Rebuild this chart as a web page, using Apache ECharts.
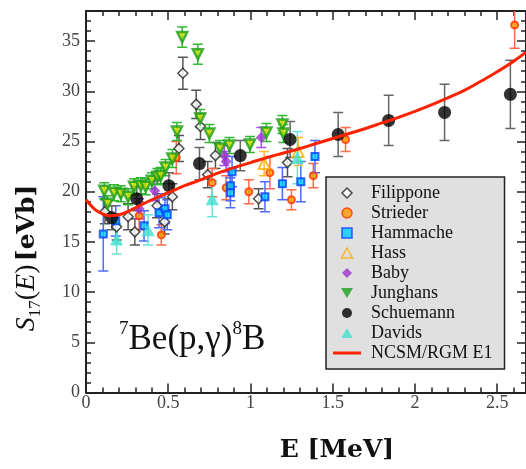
<!DOCTYPE html>
<html>
<head>
<meta charset="utf-8">
<script src="https://cdn.jsdelivr.net/npm/echarts@6/dist/echarts.min.js"></script>
<style>
  html, body { margin: 0; padding: 0; background: #fff; }
  #main { width: 526px; height: 469px; }
</style>
</head>
<body>
<div id="main"></div>
<script>
// E [MeV], S17 [eVb], error [eVb]
var filipponeE = [0.115, 0.186, 0.256, 0.297, 0.432, 0.478, 0.525, 0.565, 0.589, 0.67, 0.696, 0.74, 0.787, 1.049, 1.225];
var filipponeS = [18.0, 16.5, 17.5, 16.0, 18.6, 17.0, 19.5, 24.3, 31.8, 28.7, 26.5, 21.7, 23.6, 19.3, 22.9];
var filipponeErr = [1.2, 1.3, 1.3, 1.3, 1.2, 1.2, 1.3, 1.3, 1.6, 1.4, 1.3, 1.3, 1.3, 1.0, 1.4];

var striederE = [0.323, 0.458, 0.549, 0.767, 0.852, 0.99, 1.118, 1.249, 1.382, 1.578, 2.606];
var striederS = [17.6, 15.7, 23.4, 20.9, 20.4, 20.0, 21.9, 19.2, 21.6, 25.2, 36.6];
var striederErr = [1.4, 1.0, 1.6, 1.4, 1.2, 1.2, 1.6, 1.0, 1.2, 1.2, 2.3];

var hammacheE = [0.105, 0.181, 0.353, 0.444, 0.48, 0.494, 0.878, 0.888, 0.878, 1.088, 1.194, 1.306, 1.392];
var hammacheS = [15.8, 17.1, 16.6, 17.9, 18.3, 17.7, 20.6, 22.0, 19.9, 19.5, 20.8, 21.0, 23.5];
var hammacheErr = [3.7, 1.5, 1.5, 1.5, 1.5, 1.5, 1.5, 1.5, 1.5, 1.5, 1.6, 2.0, 1.6];

var hassE = [1.083, 1.29];
var hassS = [22.8, 24.0];
var hassErr = [1.2, 1.4];

var babyE = [0.323, 0.418, 0.841, 0.852, 1.066];
var babyS = [18.3, 20.1, 23.6, 23.0, 25.4];
var babyErr = [1.0, 1.0, 1.0, 1.0, 1.0];

var junghansE = [0.111, 0.131, 0.171, 0.212, 0.256, 0.292, 0.333, 0.363, 0.4, 0.434, 0.454, 0.484, 0.525, 0.553, 0.585, 0.68, 0.694, 0.75, 0.815, 0.872, 0.997, 1.097, 1.194, 1.2];
var junghansS = [20.1, 18.8, 19.9, 19.8, 19.5, 20.5, 20.6, 20.5, 21.1, 21.5, 21.6, 22.4, 23.3, 26.0, 35.4, 33.7, 27.3, 25.8, 24.3, 24.6, 24.7, 25.9, 26.7, 25.8];
var junghansErr = [0.8, 0.8, 0.8, 0.8, 0.8, 0.8, 0.8, 0.8, 0.8, 0.8, 0.8, 0.8, 0.9, 0.9, 1.0, 1.0, 0.9, 0.9, 0.8, 0.8, 0.8, 0.9, 0.9, 0.9];

var schuemannE = [0.157, 0.309, 0.504, 0.69, 0.938, 1.241, 1.533, 1.84, 2.18, 2.58];
var schuemannS = [17.4, 19.3, 20.6, 22.8, 23.6, 25.2, 25.7, 27.1, 27.9, 29.7];
var schuemannErr = [1.2, 1.2, 1.3, 1.6, 1.5, 1.8, 2.2, 2.5, 2.8, 3.4];

var davidsE = [0.186, 0.377, 0.767, 1.285];
var davidsS = [15.3, 16.2, 19.3, 23.4];
var davidsErr = [1.5, 1.5, 1.8, 2.6];

var curveE = [0, 0.05, 0.1, 0.15, 0.2, 0.3, 0.4, 0.5, 0.6, 0.7, 0.8, 0.9, 1.0, 1.1, 1.2, 1.3, 1.4, 1.5, 1.6, 1.7, 1.8, 1.9, 2.0, 2.1, 2.2, 2.3, 2.4, 2.5, 2.6, 2.675];
var curveS = [19.2, 18.3, 17.8, 17.6, 17.7, 18.4, 19.2, 19.9, 20.6, 21.2, 21.85, 22.4, 22.9, 23.4, 23.85, 24.3, 24.8, 25.3, 25.8, 26.3, 26.85, 27.4, 28.0, 28.65, 29.35, 30.1, 31.0, 31.95, 33.0, 33.9];

var xMin = 0, xMax = 2.675, yMin = 0, yMax = 38;

var serif = 'Liberation Serif';

function zip(xs, ys) {
  return xs.map(function (x, i) { return [x, ys[i]]; });
}

function errorBars(name, xs, ys, err, color) {
  return {
    type: 'custom',
    name: name + ' err',
    clip: true,
    z: 2,
    data: xs.map(function (x, i) { return [x, ys[i] - err[i], ys[i] + err[i]]; }),
    encode: { x: 0, y: [1, 2] },
    renderItem: function (params, api) {
      var lo = api.coord([api.value(0), api.value(1)]);
      var hi = api.coord([api.value(0), api.value(2)]);
      var w = 5;
      var st = { stroke: color, lineWidth: 1.5 };
      return {
        type: 'group',
        children: [
          { type: 'line', shape: { x1: lo[0], y1: lo[1], x2: hi[0], y2: hi[1] }, style: st },
          { type: 'line', shape: { x1: lo[0] - w, y1: lo[1], x2: lo[0] + w, y2: lo[1] }, style: st },
          { type: 'line', shape: { x1: hi[0] - w, y1: hi[1], x2: hi[0] + w, y2: hi[1] }, style: st }
        ]
      };
    }
  };
}

function points(name, xs, ys, symbol, size, itemStyle, rotate) {
  return {
    type: 'scatter',
    name: name,
    data: zip(xs, ys),
    symbol: symbol,
    symbolSize: size,
    symbolRotate: rotate || 0,
    itemStyle: itemStyle,
    z: 3
  };
}

function xAx(pos, interval, len, labels, line) {
  return {
    type: 'value', position: pos, min: xMin, max: xMax, interval: interval,
    axisLine: { show: line, onZero: false, lineStyle: { color: '#222', width: 2 } },
    axisTick: { inside: true, length: len, lineStyle: { color: '#222', width: 1.5 } },
    axisLabel: { show: labels, margin: 2, fontFamily: serif, fontSize: 18, color: '#444', showMaxLabel: false },
    splitLine: { show: false }
  };
}

function yAx(pos, interval, len, labels, line) {
  return {
    type: 'value', position: pos, min: yMin, max: yMax, interval: interval,
    axisLine: { show: line, onZero: false, lineStyle: { color: '#222', width: 2 } },
    axisTick: { inside: true, length: len, lineStyle: { color: '#222', width: 1.5 } },
    axisLabel: { show: labels, margin: 6, fontFamily: serif, fontSize: 18, color: '#444', showMaxLabel: false },
    splitLine: { show: false }
  };
}

// legend icons as paths so they keep their shape inside the 28px icon box
var iconDiamond = 'path://M5,0L10,5L5,10L0,5Z';
var iconCircle = 'path://M0,5A5,5 0 1,1 10,5A5,5 0 1,1 0,5Z';
var iconSquare = 'path://M0,0H10V10H0Z';
var iconUp = 'path://M5,0L10,9L0,9Z';
var iconDown = 'path://M0,0L12,0L6,10Z';
var iconLine = 'path://M0,0H28V3H0Z';

function legendItem(name, icon, style) {
  return { name: name, icon: icon, itemStyle: style };
}

var chart = echarts.init(document.getElementById('main'));

var option = {
  animation: false,
  backgroundColor: '#fff',
  grid: { left: 86, right: -2, top: 11, bottom: 76.5 },
  xAxis: [
    xAx('bottom', 0.5, 9, true, true),
    xAx('bottom', 0.1, 5, false, false),
    xAx('top', 0.5, 9, false, true),
    xAx('top', 0.1, 5, false, false)
  ],
  yAxis: [
    yAx('left', 5, 9, true, true),
    yAx('left', 1, 5, false, false),
    yAx('right', 5, 9, false, true),
    yAx('right', 1, 5, false, false)
  ],
  legend: {
    orient: 'vertical',
    left: 326,
    top: 177,
    selectedMode: false,
    backgroundColor: '#e0e0e0',
    borderColor: '#222',
    borderWidth: 1.5,
    borderRadius: 0,
    padding: [6, 12, 6, 7],
    itemGap: 0,
    itemWidth: 28,
    itemHeight: 10,
    textStyle: { fontFamily: serif, fontSize: 18, color: '#111', lineHeight: 20, padding: [0, 0, 0, 5] },
    data: [
      legendItem('Filippone', iconDiamond, { color: '#fff', borderColor: '#222', borderWidth: 1.5 }),
      legendItem('Strieder', iconCircle, { color: '#ff9900', borderColor: '#ff3300', borderWidth: 1.5 }),
      legendItem('Hammache', iconSquare, { color: '#00ccff', borderColor: '#0040ff', borderWidth: 1.5 }),
      legendItem('Hass', iconUp, { color: 'rgba(255,255,255,0)', borderColor: '#ffaa00', borderWidth: 1.5 }),
      legendItem('Baby', iconDiamond, { color: '#9933cc', borderWidth: 0 }),
      legendItem('Junghans', iconDown, { color: '#1a9e1a', borderWidth: 0 }),
      legendItem('Schuemann', iconCircle, { color: '#000', borderWidth: 0 }),
      legendItem('Davids', iconUp, { color: '#40e0d0', borderWidth: 0 }),
      legendItem('NCSM/RGM E1', iconLine, { color: '#ff2200', borderWidth: 0 })
    ]
  },
  graphic: [
    {
      type: 'text', x: 337, y: 450,
      style: { text: 'E [MeV]', font: 'bold 25px "DejaVu Serif"', fill: '#111', align: 'center', verticalAlign: 'middle', textAlign: 'center', textVerticalAlign: 'middle' }
    },
    {
      type: 'text', x: 27, y: 258, rotation: Math.PI / 2,
      style: {
        text: '{i|S}{sub|17}{n|(}{i|E}{n|)} {b|[eVb]}',
        align: 'center', verticalAlign: 'middle', textAlign: 'center', textVerticalAlign: 'middle',
        fill: '#111',
        rich: {
          i: { fontFamily: serif, fontStyle: 'italic', fontSize: 28, lineHeight: 34, verticalAlign: 'middle', fill: '#111' },
          n: { fontFamily: serif, fontSize: 28, lineHeight: 34, verticalAlign: 'middle', fill: '#111' },
          sub: { fontFamily: serif, fontSize: 17, lineHeight: 17, verticalAlign: 'bottom', fill: '#111' },
          b: { fontFamily: 'DejaVu Serif', fontWeight: 'bold', fontSize: 25, lineHeight: 34, verticalAlign: 'middle', fill: '#111' }
        }
      }
    },
    {
      type: 'text', x: 119, y: 340,
      style: {
        text: '{sup|7}{n|Be(p,γ)}{sup|8}{n|B}',
        align: 'left', verticalAlign: 'middle', textAlign: 'left', textVerticalAlign: 'middle',
        fill: '#111',
        rich: {
          n: { fontFamily: serif, fontSize: 35, lineHeight: 40, verticalAlign: 'middle', fill: '#111' },
          sup: { fontFamily: serif, fontSize: 19, lineHeight: 19, verticalAlign: 'top', fill: '#111' }
        }
      }
    }
  ],
  series: [
    errorBars('Filippone', filipponeE, filipponeS, filipponeErr, '#555'),
    errorBars('Strieder', striederE, striederS, striederErr, '#ff6a4d'),
    errorBars('Hammache', hammacheE, hammacheS, hammacheErr, '#4d6bff'),
    errorBars('Hass', hassE, hassS, hassErr, '#ffb733'),
    errorBars('Baby', babyE, babyS, babyErr, '#a64dff'),
    errorBars('Junghans', junghansE, junghansS, junghansErr, '#33b833'),
    errorBars('Schuemann', schuemannE, schuemannS, schuemannErr, '#666'),
    errorBars('Davids', davidsE, davidsS, davidsErr, '#66e6d9'),
    points('Filippone', filipponeE, filipponeS, 'diamond', 10, { color: '#fff', borderColor: '#222', borderWidth: 1.5 }),
    points('Strieder', striederE, striederS, 'circle', 7, { color: '#ff9900', borderColor: '#ff3300', borderWidth: 2 }),
    points('Hammache', hammacheE, hammacheS, 'rect', 7, { color: '#00ccff', borderColor: '#0040ff', borderWidth: 2 }),
    points('Hass', hassE, hassS, 'triangle', 11, { color: 'rgba(255,255,255,0)', borderColor: '#ffaa00', borderWidth: 2 }),
    points('Baby', babyE, babyS, 'diamond', 11, { color: '#9933cc' }),
    points('Junghans', junghansE, junghansS, 'triangle', 10, { color: '#d4e000', borderColor: '#1a9e1a', borderWidth: 2.5 }, 180),
    points('Schuemann', schuemannE, schuemannS, 'circle', 13, { color: '#000' }),
    points('Davids', davidsE, davidsS, 'triangle', 13, { color: '#40e0d0' }),
    {
      type: 'line',
      name: 'NCSM/RGM E1',
      data: zip(curveE, curveS),
      smooth: true,
      showSymbol: false,
      symbol: 'none',
      lineStyle: { color: '#ff2200', width: 3 },
      itemStyle: { color: '#ff2200' },
      z: 5
    }
  ]
};

chart.setOption(option);
</script>
</body>
</html>
